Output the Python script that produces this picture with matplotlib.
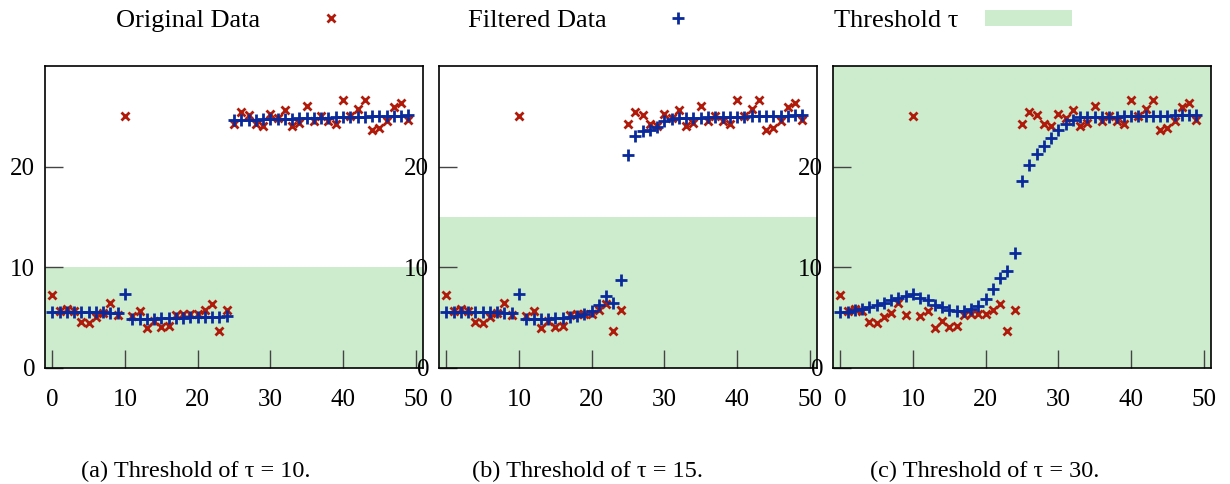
import matplotlib
matplotlib.use("Agg")
import matplotlib.pyplot as plt
from matplotlib.lines import Line2D
from matplotlib.patches import Patch

plt.rcParams['font.family'] = ['Liberation Serif', 'DejaVu Serif']
plt.rcParams['mathtext.fontset'] = 'stix'

# ---------------- data ----------------
x_vals = list(range(50))
original = [7.25, 5.7, 5.9, 5.7, 4.6, 4.5, 5.1, 5.5, 6.5, 5.3,
            25.0, 5.2, 5.7, 4.0, 4.7, 4.1, 4.2, 5.3, 5.4, 5.4,
            5.4, 5.8, 6.4, 3.7, 5.8, 24.2, 25.4, 25.1, 24.2, 24.0,
            25.2, 24.8, 25.6, 24.0, 24.3, 26.0, 24.5, 25.0, 24.5, 24.2,
            26.6, 25.0, 25.7, 26.6, 23.6, 23.8, 24.5, 25.9, 26.3, 24.6]

filtered_10 = [5.6, 5.6, 5.6, 5.6, 5.6, 5.55, 5.55, 5.55, 5.5, 5.5,
               7.35, 4.85, 4.85, 4.9, 4.9, 4.95, 4.95, 5.0, 5.0, 5.05,
               5.05, 5.1, 5.1, 5.1, 5.15, 24.6, 24.6, 24.65, 24.65, 24.7,
               24.7, 24.7, 24.75, 24.75, 24.8, 24.8, 24.8, 24.85, 24.85, 24.9,
               24.9, 24.9, 24.95, 24.95, 25.0, 25.0, 25.0, 25.05, 25.05, 25.1]

filtered_15 = [5.6, 5.6, 5.6, 5.6, 5.6, 5.55, 5.55, 5.55, 5.5, 5.5,
               7.4, 4.85, 4.85, 4.9, 4.9, 4.95, 5.0, 5.1, 5.2, 5.4,
               5.7, 6.3, 7.2, 6.5, 8.7, 21.2, 23.0, 23.5, 23.6, 23.9,
               24.5, 24.7, 24.8, 24.85, 24.85, 24.85, 24.9, 24.9, 24.9, 24.95,
               24.95, 24.95, 25.0, 25.0, 25.0, 25.05, 25.05, 25.05, 25.1, 25.1]

filtered_30 = [5.6, 5.6, 5.8, 5.9, 6.1, 6.3, 6.5, 6.75, 7.0, 7.2,
               7.4, 7.0, 6.75, 6.3, 6.1, 5.8, 5.7, 5.7, 5.9, 6.2,
               6.9, 7.8, 8.9, 9.6, 11.4, 18.6, 20.2, 21.3, 22.05, 22.8,
               23.6, 24.2, 24.6, 24.9, 24.9, 24.9, 24.95, 24.95, 24.95, 25.0,
               25.0, 25.0, 25.0, 25.05, 25.05, 25.05, 25.1, 25.1, 25.1, 25.1]

thresholds = [10, 15, 30]
filtered_sets = [filtered_10, filtered_15, filtered_30]
captions = ["(a) Threshold of \u03c4 = 10.",
            "(b) Threshold of \u03c4 = 15.",
            "(c) Threshold of \u03c4 = 30."]
x_ticks = [0, 10, 20, 30, 40, 50]
y_ticks = [0, 10, 20]

# ---------------- style ----------------
W, H = 1230, 484
RED = '#b01a0a'
BLUE = '#0a2a9c'
GREEN = '#cdebcd'
FS = 18
LFS = 19

fig = plt.figure(figsize=(W / 100, H / 100), dpi=100)

lefts = [45, 439, 833]
ax_w, top, bottom = 378, 66, 368
cap_centers = [196, 588, 985]

for i in range(3):
    ax = fig.add_axes([lefts[i] / W, (H - bottom) / H, ax_w / W, (bottom - top) / H])
    ax.axhspan(0, thresholds[i], color=GREEN, lw=0, zorder=0)
    ax.plot(x_vals, original, ls='none', marker='x', color=RED, ms=6, mew=2, zorder=3)
    ax.plot(x_vals, filtered_sets[i], ls='none', marker='+', color=BLUE, ms=9, mew=2, zorder=4)
    ax.set_xlim(-1, 51)
    ax.set_ylim(0, 30)
    ax.set_xticks(x_ticks)
    ax.set_yticks(y_ticks)
    ax.tick_params(direction='in', length=13, width=1, color='#444444',
                   labelsize=FS, top=False, right=False)
    ax.tick_params(axis='x', pad=15)
    ax.tick_params(axis='y', pad=7)
    for sp in ax.spines.values():
        sp.set_linewidth(1.2)
    fig.text(cap_centers[i] / W, 1 - 471 / H, captions[i], ha='center', va='center',
             fontsize=17.5)

# ---------------- legend (three entries, gnuplot-like key) ----------------
fs_px = LFS * 100 / 72
handle_len = 87 / fs_px
text_pad = 27 / fs_px
entries = [
    (Line2D([], [], ls='none', marker='x', color=RED, ms=6, mew=2), "Original Data", 374),
    (Line2D([], [], ls='none', marker='+', color=BLUE, ms=9, mew=2), "Filtered Data", 721),
    (Patch(facecolor=GREEN, edgecolor='none'), "Threshold \u03c4", 1072),
]
for handle, label, right_px in entries:
    fig.legend([handle], [label], loc='center right',
               bbox_to_anchor=(right_px / W, 1 - 21 / H),
               frameon=False, markerfirst=False, fontsize=LFS,
               handlelength=handle_len, handletextpad=text_pad,
               handleheight=0.6, borderpad=0, borderaxespad=0, numpoints=1)

fig.savefig('out.png', dpi=100)
